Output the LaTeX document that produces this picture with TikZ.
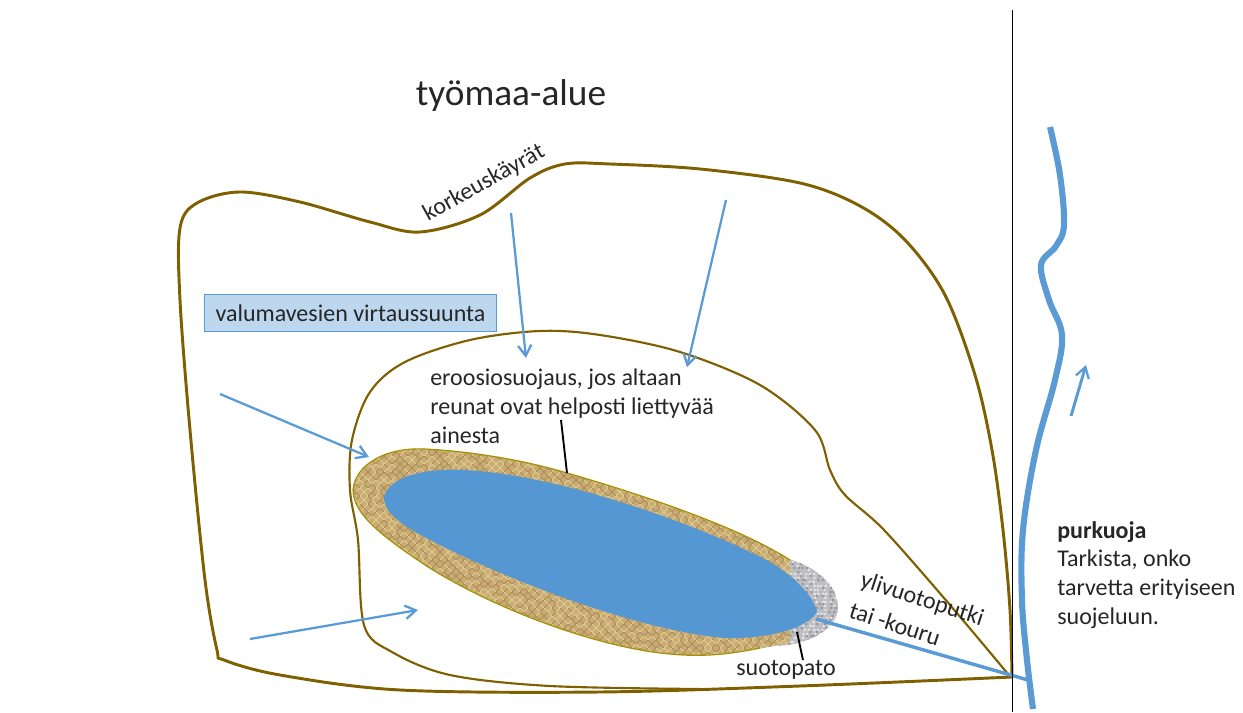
\documentclass[tikz,border=0pt]{standalone}
\usepackage{fontspec}
\setmainfont{Carlito}
\usetikzlibrary{arrows.meta}
\definecolor{brownline}{HTML}{7F6000}
\definecolor{bluew}{HTML}{5B9BD5}
\definecolor{pond}{HTML}{5597D3}
\definecolor{tanfill}{HTML}{C9AC74}
\definecolor{greyfill}{HTML}{BEBEC2}
\definecolor{boxfill}{HTML}{BDD7EE}
\definecolor{ink}{HTML}{262626}
\tikzset{
 contour/.style={draw=brownline,line join=round},
 flow/.style={draw=bluew,line width=1.7pt,-{Straight Barb[length=8pt,width=10pt,line width=1.7pt]}},
 lead/.style={draw=black,line width=1.4pt},
 lab/.style={text=ink,font=\fontsize{18}{21.5}\selectfont,inner sep=0pt},
}
\def\damshape{(775,556) .. controls (805,560) and (838,580) .. (838,607) .. controls (838,630) and (805,646) .. (775,646) .. controls (755,648) and (740,646) .. (730,640) -- (750,560) -- cycle}
\def\tanshape{(353,490) .. controls (355,465) and (385,447) .. (425,449) .. controls (480,452) and (530,462) .. (567,473) .. controls (650,497) and (740,528) .. (790,560) -- (790,642) .. controls (760,650) and (710,658) .. (670,654) .. controls (600,648) and (495,610) .. (425,565) .. controls (385,538) and (353,515) .. (353,490) -- cycle}
\def\pondshape{(384,497) .. controls (390,476) and (425,468) .. (465,470) .. controls (560,475) and (700,525) .. (770,562) .. controls (800,580) and (815,600) .. (817,612) .. controls (805,630) and (765,639) .. (725,638) .. controls (650,632) and (530,590) .. (440,545) .. controls (410,530) and (383,515) .. (384,497) -- cycle}
\begin{document}
\begin{tikzpicture}[x=0.75pt,y=-0.75pt]
\useasboundingbox (0,0) rectangle (1243,713);
\coordinate (a1s) at (511,213); \coordinate (a1e) at (526,358);
\coordinate (a2s) at (726,200); \coordinate (a2e) at (687,367);
\coordinate (a3s) at (220,394); \coordinate (a3e) at (369,457);
\coordinate (a4s) at (250,639); \coordinate (a4e) at (418,610);
\coordinate (a5s) at (1071,416); \coordinate (a5e) at (1086,365);
\coordinate (l1s) at (561,420); \coordinate (l1e) at (567,473);
\coordinate (l2s) at (797,632); \coordinate (l2e) at (803,660);
\coordinate (pipeS) at (816,619); \coordinate (pipeE) at (1028,680);
\coordinate (bt) at (1012,10); \coordinate (bb) at (1012,712);
% outer contour
\draw[contour,line width=2.2pt] plot[smooth,tension=.55] coordinates {
 (1012,677) (1010,610) (1003,530) (992,450) (975,375) (945,295) (905,240) (860,206) (800,183) (700,169) (610,164) (565,164) (530,178) (480,215) (420,232) (370,222) (300,202) (240,192) (197,203) (180,228) (180,300) (190,430) (205,580) (217,650) (224,660) (280,675) (400,690) (600,692) (800,686) (1012,677)};
% inner contour
\draw[contour,line width=1.6pt] plot[smooth,tension=.55] coordinates {
 (1008,674) (950,605) (884,530) (845,495) (830,470) (815,430) (760,385) (680,352) (600,335) (540,331) (470,340) (405,362) (370,392) (352,440) (350,490) (358,540) (364,625) (392,652) (450,675) (550,686) (700,689)};
% grey check dam
\begin{scope}
\path[clip] \damshape;
\fill[greyfill] (720,550) rectangle (845,655);
\pgfmathsetseed{7}
\foreach \px in {722,726,...,842}{\foreach \py in {552,556,...,652}{
 \pgfmathsetmacro{\sh}{rnd}
 \pgfmathsetmacro{\dx}{3*rnd-1.5}
 \ifdim\sh pt<0.45pt \fill[black!55,opacity=.5] (\px+\dx,\py) circle (1.1pt);
 \else \fill[white,opacity=.6] (\px+\dx,\py+2) circle (1.1pt);\fi
}}
\end{scope}
% tan band
\begin{scope}
\path[clip] \tanshape;
\fill[tanfill] (345,440) rectangle (800,665);
\pgfmathsetseed{11}
\foreach \px in {350,354,...,796}{\foreach \py in {446,450,...,662}{
 \pgfmathsetmacro{\sh}{rnd}
 \pgfmathsetmacro{\dr}{mod(\px+\py,8)==0 ? 45 : -45}
 \ifdim\sh pt<0.5pt \draw[brown!65!black,opacity=.35,line width=.7pt,rotate around={\dr:(\px,\py)}] (\px-2.5,\py) -- (\px+2.5,\py);
 \else \draw[yellow!25!white,opacity=.4,line width=.7pt,rotate around={\dr:(\px,\py)}] (\px-2.5,\py) -- (\px+2.5,\py);\fi
}}
\end{scope}
\draw[draw=brownline!70!yellow,line width=.9pt] (353,490) .. controls (355,465) and (385,447) .. (425,449) .. controls (480,452) and (530,462) .. (567,473) .. controls (650,497) and (740,528) .. (790,560);
\draw[draw=brownline!70!yellow,line width=.9pt] (353,490) .. controls (353,515) and (385,538) .. (425,565) .. controls (495,610) and (600,648) .. (670,654) .. controls (710,658) and (740,652) .. (760,648);
% pond
\fill[pond] \pondshape;
% outlet pipe
\draw[bluew,line width=2.6pt] (pipeS) -- (pipeE);
% vertical line
\draw[black,line width=.75pt] (bt) -- (bb);
% river
\draw[bluew,line width=4.6pt,line cap=butt] plot[smooth,tension=.6] coordinates {
 (1050,127) (1060,175) (1064,225) (1056,246) (1041,265) (1049,300) (1062,335) (1055,380) (1036,450) (1023,530) (1022,600) (1027,660) (1033,709)};
% arrows
\draw[flow] (a1s) -- (a1e);
\draw[flow] (a2s) -- (a2e);
\draw[flow] (a3s) -- (a3e);
\draw[flow] (a4s) -- (a4e);
\draw[flow,line width=2.2pt] (a5s) -- (a5e);
% leaders
\draw[lead] (l1s) -- (l1e);
\draw[lead] (l2s) -- (l2e);
% labels
\node[text=ink,font=\fontsize{28}{34}\selectfont,inner sep=0pt] (title) at (511,96) {työmaa-alue};
\node[lab,rotate=29] (korkeus) at (484,183) {korkeuskäyrät};
\node[lab,fill=boxfill,draw=bluew,line width=.8pt,minimum width=219pt,minimum height=28pt,inner sep=0pt] (valuma) at (350.5,313) {valumavesien virtaussuunta};
\node[lab,anchor=north west,align=left] (eroosio) at (430,369) {eroosiosuojaus, jos altaan\\reunat ovat helposti liettyvää\\ainesta};
\node[lab,rotate=-18] (yli) at (922,600) {ylivuotoputki};
\node[lab,rotate=-18] (tai) at (895,624) {tai -kouru};
\node[lab] (suoto) at (786,670) {suotopato};
\node[lab,anchor=north west,align=left] (purku) at (1057,521) {\textbf{purkuoja}\\Tarkista, onko\\tarvetta erityiseen\\suojeluun.};
\end{tikzpicture}
\end{document}
